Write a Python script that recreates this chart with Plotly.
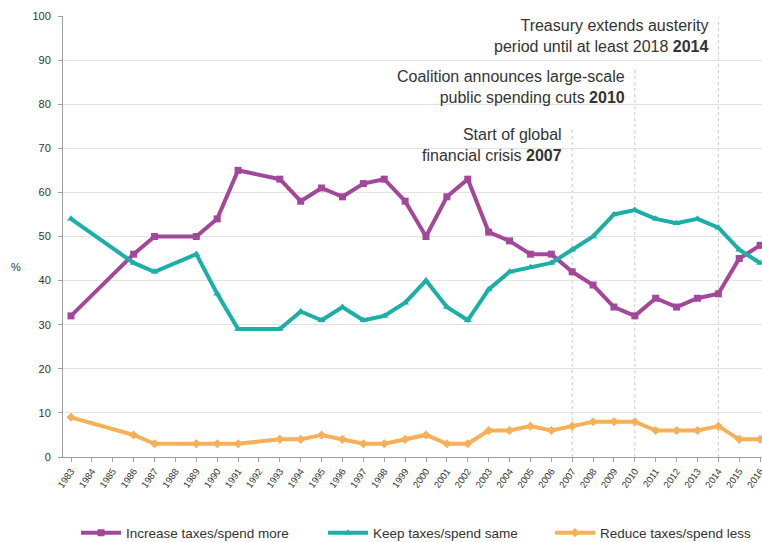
import plotly.graph_objects as go

years = [1983, 1986, 1987, 1989, 1990, 1991, 1993, 1994, 1995, 1996, 1997, 1998,
         1999, 2000, 2001, 2002, 2003, 2004, 2005, 2006, 2007, 2008, 2009, 2010,
         2011, 2012, 2013, 2014, 2015, 2016]
increase = [32, 46, 50, 50, 54, 65, 63, 58, 61, 59, 62, 63,
            58, 50, 59, 63, 51, 49, 46, 46, 42, 39, 34, 32,
            36, 34, 36, 37, 45, 48]
keep = [54, 44, 42, 46, 37, 29, 29, 33, 31, 34, 31, 32,
        35, 40, 34, 31, 38, 42, 43, 44, 47, 50, 55, 56,
        54, 53, 54, 52, 47, 44]
reduce = [9, 5, 3, 3, 3, 3, 4, 4, 5, 4, 3, 3,
          4, 5, 3, 3, 6, 6, 7, 6, 7, 8, 8, 8,
          6, 6, 6, 7, 4, 4]
tick_years = list(range(1983, 2017))

events = [
    (2007, "Start of global<br>financial crisis <b>2007</b>", 74.5, 70.7),
    (2010, "Coalition announces large-scale<br>public spending cuts <b>2010</b>", 87.8, 83.9),
    (2014, "Treasury extends austerity<br>period until at least 2018 <b>2014</b>", 99.5, 95.5),
]

series = [
    ("Increase taxes/spend more", increase, "#A3479B", "square", "legend", 0.0186),
    ("Keep taxes/spend same", keep, "#1BAFA8", "triangle-up", "legend2", 0.3720),
    ("Reduce taxes/spend less", reduce, "#F6B05A", "diamond", "legend3", 0.6967),
]

fig = go.Figure()
legend_cfg = {}
for name, vals, col, sym, lg, lx in series:
    fig.add_trace(go.Scatter(
        x=years, y=vals, name=name, mode="lines+markers",
        line=dict(color=col, width=4),
        marker=dict(color=col, size=7, symbol=sym),
        cliponaxis=False, legend=lg,
    ))
    legend_cfg[lg] = dict(orientation="h", x=lx, xanchor="left", y=-0.172, yanchor="middle",
                          font=dict(size=13.5, color="#333333"), itemwidth=40,
                          bgcolor="rgba(0,0,0,0)")

shapes = []
annotations = []
for yr, txt, top, ty in events:
    shapes.append(dict(type="line", xref="x", yref="y", x0=yr, x1=yr, y0=0, y1=top,
                       line=dict(color="#C8C8C8", width=1, dash="dot"), layer="below"))
    annotations.append(dict(x=yr, y=ty, xref="x", yref="y", text=txt, showarrow=False,
                            xanchor="right", yanchor="middle", align="right", xshift=-8,
                            font=dict(size=16, color="#333333")))
annotations.append(dict(x=-(63 - 16) / 699, y=(457 - 267) / 441, xref="paper", yref="paper",
                        text="%", showarrow=False, xanchor="center", yanchor="middle",
                        font=dict(size=11, color="#333333")))

fig.update_layout(
    width=762, height=542,
    margin=dict(l=63, r=0, t=16, b=85, autoexpand=False),
    paper_bgcolor="white", plot_bgcolor="white",
    font=dict(family="Liberation Sans, Arial, sans-serif", color="#333333"),
    showlegend=True,
    shapes=shapes,
    annotations=annotations,
    **legend_cfg,
)
fig.update_xaxes(
    range=[1982.617, 2016.09], tickmode="array", tickvals=tick_years,
    ticktext=[str(y) for y in tick_years], tickangle=-55, automargin=False,
    ticklabeloverflow="allow",
    tickfont=dict(size=9.5, color="#333333"),
    showgrid=False, zeroline=False, showline=True, linecolor="#A0A0A0", linewidth=1,
    ticks="outside", ticklen=4, tickcolor="#A0A0A0",
)
fig.update_yaxes(
    range=[0, 100], tickmode="array", tickvals=list(range(0, 101, 10)), automargin=False,
    ticklabelstandoff=5,
    tickfont=dict(size=11, color="#333333"),
    showgrid=True, gridcolor="#E3E3E3", gridwidth=1, zeroline=False,
    showline=True, linecolor="#A0A0A0", linewidth=1,
    ticks="outside", ticklen=4, tickcolor="#A0A0A0",
)
fig.write_html("out.html", config={"displayModeBar": False},
               post_script="document.body.style.margin='0';document.body.style.overflow='hidden';")
